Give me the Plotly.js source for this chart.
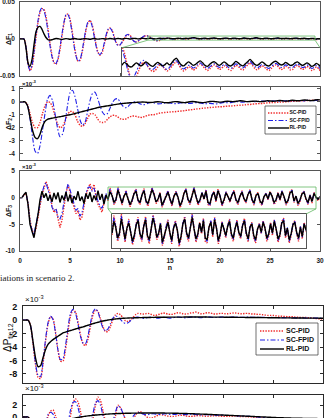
<!DOCTYPE html>
<html>
<head>
<meta charset="utf-8">
<script src="https://cdn.plot.ly/plotly-3.0.1.min.js"></script>
<style>
  html, body { margin: 0; padding: 0; background: #fff; overflow: hidden; }
  #chart { width: 326px; height: 418px; }
</style>
</head>
<body>
<div id="chart"></div>
<script>
// Sample instants (s) of the recorded signals
function timeBase(step) {
  const n = Math.round(30 / step), t = [];
  for (let i = 0; i <= n; i++) t.push(Math.round(i * step * 100) / 100);
  return t;
}
const tFast = timeBase(0.2);   // dF1, dF3
const tSlow = timeBase(0.25);  // dF2, dPtie12, lower tie-line panel

const legendNames = ['SC-PID', 'SC-FPID', 'RL-PID'];
const xTicks = [0, 5, 10, 15, 20, 25, 30];
const xTickText = ['0', '5', '10', '15', '20', '25', '30'];
const f1Ticks = [-0.05, 0, 0.05], f1TickText = ['-0.05', '0', '0.05'];
const f2Ticks = [-4, -3, -2, -1, 0, 1], f2TickText = ['-4', '-3', '-2', '-1', '0', '1'];
const f3Ticks = [-10, -5, 0, 5], f3TickText = ['-10', '-5', '0', '5'];
const pTicks = [-8, -6, -4, -2, 0, 2], pTickText = ['-8', '-6', '-4', '-2', '0', '2'];
const p2Ticks = [-2, 0, 2], p2TickText = ['-2', '0', '2'];

// dF1 (pu), one row per second
const dF1_scPid = [
  0, 0, 0, -0.010, -0.033,
  -0.043, -0.038, -0.020, 0.002, 0.022,
  0.036, 0.041, 0.040, 0.030, 0.014,
  -0.006, -0.022, -0.032, -0.034, -0.028,
  -0.014, 0.004, 0.021, 0.032, 0.034,
  0.027, 0.012, -0.006, -0.022, -0.030,
  -0.029, -0.019, -0.004, 0.012, 0.022,
  0.025, 0.020, 0.008, -0.007, -0.018,
  -0.022, -0.019, -0.009, 0.003, 0.012,
  0.015, 0.012, 0.004, -0.004, -0.008,
  -0.008, -0.005, 0.000, 0.004, 0.006,
  0.005, 0.001, -0.003, -0.004, -0.003,
  -0.001, 0.0015, 0.0035, 0.0045, 0.0042,
  0.003, 0.001, -0.001, -0.0022, -0.0025,
  -0.0018, -0.0006, 0.0005, 0.0011, 0.0009,
  0.0002, -0.0004, -0.0007, -0.0005, 0.0001,
  0.0006, 0.0004, -0.0002, -0.0006, -0.0003,
  0.0003, 0.0009, 0.0012, 0.0006, -0.0002,
  -0.0006, -0.0003, 0.0002, 0.0001, -0.0004,
  -0.0002, 0.0004, 0.0008, 0.0004, -0.0001,
  -0.0005, -0.0002, 0.0003, 0.0006, 0.0002,
  -0.0003, -0.0001, 0.0004, 0.0002, -0.0003,
  -0.0005, 0.0000, 0.0005, 0.0003, -0.0002,
  -0.0004, 0.0001, 0.0006, 0.0010, 0.0005,
  -0.0001, -0.0004, 0.0000, 0.0004, 0.0002,
  -0.0003, -0.0005, -0.0001, 0.0004, 0.0006,
  0.0002, -0.0003, -0.0002, 0.0003, 0.0001,
  -0.0004, -0.0003, 0.0002, 0.0005, 0.0001,
  -0.0003, -0.0001, 0.0003, 0.0000, -0.0005,
  -0.0003, 0.0002, -0.0002, -0.0008, -0.0006,
  -0.0003
];
const dF1_scFpid = [
  0, 0, 0, -0.011, -0.035,
  -0.042, -0.036, -0.017, 0.005, 0.025,
  0.038, 0.042, 0.038, 0.027, 0.010,
  -0.009, -0.024, -0.032, -0.033, -0.026,
  -0.011, 0.007, 0.023, 0.033, 0.033,
  0.025, 0.009, -0.009, -0.023, -0.030,
  -0.028, -0.017, -0.001, 0.014, 0.023,
  0.025, 0.018, 0.005, -0.009, -0.019,
  -0.021, -0.017, -0.007, 0.005, 0.013,
  0.015, 0.011, 0.003, -0.005, -0.009,
  -0.008, -0.004, 0.001, 0.005, 0.006,
  0.004, 0.000, -0.003, -0.004, -0.0025,
  -0.0005, 0.002, 0.004, 0.0045, 0.0038,
  0.0022, 0.0003, -0.0014, -0.0022, -0.0018,
  -0.0008, 0.0003, 0.0012, 0.0015, 0.0010,
  0.0003, -0.0002, -0.0003, 0.0001, 0.0006,
  0.0009, 0.0005, -0.0001, -0.0003, 0.0001,
  0.0007, 0.0013, 0.0014, 0.0008, 0.0001,
  -0.0002, 0.0001, 0.0005, 0.0004, 0.0000,
  0.0002, 0.0007, 0.0010, 0.0006, 0.0002,
  -0.0001, 0.0002, 0.0006, 0.0008, 0.0004,
  0.0001, 0.0003, 0.0007, 0.0005, 0.0001,
  -0.0001, 0.0003, 0.0008, 0.0006, 0.0002,
  0.0000, 0.0004, 0.0009, 0.0013, 0.0008,
  0.0003, 0.0000, 0.0003, 0.0007, 0.0005,
  0.0001, -0.0001, 0.0003, 0.0007, 0.0009,
  0.0005, 0.0001, 0.0002, 0.0006, 0.0004,
  0.0000, 0.0001, 0.0005, 0.0008, 0.0004,
  0.0001, 0.0002, 0.0006, 0.0003, -0.0001,
  0.0001, 0.0005, 0.0002, -0.0004, -0.0003,
  0.0000
];
const dF1_rlPid = [
  0, 0, 0, -0.012, -0.032,
  -0.037, -0.028, -0.008, 0.010, 0.016,
  0.017, 0.013, 0.007, 0.002, -0.001,
  -0.0015, -0.001, 0.0000, 0.0006, 0.0004,
  -0.0002, -0.0005, 0.0000, 0.0005, 0.0002,
  -0.0003, 0.0001, 0.0006, 0.0003, -0.0002,
  -0.0004, 0.0000, 0.0005, 0.0004, 0.0000,
  -0.0003, 0.0002, 0.0006, 0.0002, -0.0002,
  0.0001, 0.0005, 0.0003, -0.0001, 0.0002,
  0.0006, 0.0004, 0.0000, 0.0003, 0.0007,
  0.0004, 0.0000, 0.0004, 0.0008, 0.0005,
  0.0001, 0.0004, 0.0009, 0.0006, 0.0002,
  0.0005, 0.0010, 0.0007, 0.0003, 0.0006,
  0.0011, 0.0008, 0.0003, 0.0002, 0.0006,
  0.0010, 0.0007, 0.0004, 0.0007, 0.0012,
  0.0009, 0.0005, 0.0003, 0.0007, 0.0011,
  0.0008, 0.0004, 0.0006, 0.0010, 0.0006,
  0.0010, 0.0016, 0.0019, 0.0012, 0.0006,
  0.0004, 0.0008, 0.0012, 0.0009, 0.0005,
  0.0007, 0.0011, 0.0014, 0.0010, 0.0005,
  0.0003, 0.0007, 0.0011, 0.0012, 0.0008,
  0.0005, 0.0008, 0.0012, 0.0009, 0.0005,
  0.0004, 0.0008, 0.0013, 0.0010, 0.0006,
  0.0004, 0.0008, 0.0012, 0.0017, 0.0012,
  0.0007, 0.0005, 0.0008, 0.0012, 0.0009,
  0.0005, 0.0004, 0.0008, 0.0012, 0.0013,
  0.0009, 0.0006, 0.0007, 0.0011, 0.0008,
  0.0005, 0.0006, 0.0010, 0.0012, 0.0008,
  0.0005, 0.0007, 0.0010, 0.0007, 0.0003,
  0.0005, 0.0009, 0.0006, 0.0001, 0.0004,
  0.0005
];

// dF2 (x1e-3 pu), one row per second
const dF2_scPid = [
  0, 0, 0, -0.2,
  -0.9, -1.6, -2.0, -2.0,
  -1.6, -0.9, -0.3, 0.0,
  -0.05, -0.4, -1.1, -1.7,
  -2.0, -1.9, -1.5, -1.0,
  -0.75, -0.75, -1.0, -1.5,
  -1.8, -1.9, -1.7, -1.3,
  -0.95, -0.9, -1.0, -1.3,
  -1.55, -1.6, -1.55, -1.35,
  -1.15, -1.05, -1.05, -1.15,
  -1.3, -1.35, -1.35, -1.25,
  -1.15, -1.1, -1.1, -1.15,
  -1.2, -1.2, -1.12, -1.05,
  -1.0, -1.0, -0.98, -0.92,
  -0.86, -0.84, -0.82, -0.8,
  -0.78, -0.77, -0.76, -0.74,
  -0.72, -0.7, -0.67, -0.64,
  -0.62, -0.6, -0.57, -0.54,
  -0.52, -0.5, -0.48, -0.46,
  -0.44, -0.43, -0.41, -0.39,
  -0.38, -0.37, -0.35, -0.33,
  -0.32, -0.31, -0.29, -0.27,
  -0.26, -0.25, -0.23, -0.21,
  -0.2, -0.18, -0.16, -0.14,
  -0.13, -0.12, -0.1, -0.08,
  -0.07, -0.06, -0.05, -0.03,
  -0.02, -0.01, 0.0, 0.02,
  0.03, 0.04, 0.05, 0.06,
  0.07, 0.08, 0.09, 0.1,
  0.11, 0.12, 0.13, 0.14,
  0.15
];
const dF2_scFpid = [
  0, 0, 0, -0.3,
  -1.3, -2.7, -3.8, -4.0,
  -3.4, -2.2, -0.9, 0.2,
  0.5, 0.1, -0.9, -2.0,
  -2.7, -2.5, -1.6, -0.3,
  0.7, 0.9, 0.4, -0.5,
  -1.4, -1.8, -1.6, -0.8,
  0.1, 0.65, 0.75, 0.3,
  -0.3, -0.8, -1.0, -0.9,
  -0.5, -0.05, 0.2, 0.25,
  0.0, -0.3, -0.45, -0.4,
  -0.2, -0.05, 0.0, -0.05,
  -0.15, -0.22, -0.2, -0.12,
  -0.05, -0.05, -0.1, -0.15,
  -0.15, -0.12, -0.08, -0.06,
  -0.08, -0.12, -0.14, -0.12,
  -0.08, -0.06, -0.08, -0.11,
  -0.12, -0.1, -0.07, -0.06,
  -0.08, -0.12, -0.15, -0.14,
  -0.12, -0.14, -0.17, -0.15,
  -0.1, -0.06, -0.05, -0.07,
  -0.06, -0.03, 0.0, 0.02,
  0.0, -0.02, -0.01, 0.02,
  0.04, 0.03, 0.01, 0.02,
  0.05, 0.06, 0.04, 0.03,
  0.05, 0.08, 0.07, 0.05,
  0.06, 0.08, 0.09, 0.07,
  0.05, 0.07, 0.1, 0.1,
  0.08, 0.07, 0.09, 0.12,
  0.1, 0.08, 0.1, 0.13,
  0.12
];
const dF2_rlPid = [
  0, 0, 0, -0.3,
  -1.2, -2.2, -2.75, -2.85,
  -2.5, -1.9, -1.5, -1.35,
  -1.3, -1.26, -1.22, -1.18,
  -1.15, -1.11, -1.07, -1.03,
  -1.0, -0.95, -0.9, -0.85,
  -0.8, -0.75, -0.7, -0.65,
  -0.6, -0.55, -0.5, -0.45,
  -0.4, -0.37, -0.34, -0.31,
  -0.28, -0.24, -0.21, -0.18,
  -0.15, -0.13, -0.11, -0.09,
  -0.07, -0.06, -0.05, -0.03,
  -0.02, -0.01, -0.02, -0.04,
  -0.05, -0.04, -0.01, 0.01,
  0.0, -0.03, -0.06, -0.07,
  -0.05, -0.01, 0.02, 0.01,
  -0.02, -0.05, -0.06, -0.03,
  0.01, 0.03, 0.01, -0.02,
  -0.05, -0.06, -0.04, 0.0,
  0.03, 0.04, 0.02, 0.0,
  -0.02, 0.0, 0.03, 0.05,
  0.04, 0.02, 0.03, 0.06,
  0.08, 0.07, 0.04, 0.02,
  0.03, 0.05, 0.06, 0.04,
  0.02, 0.03, 0.06, 0.08,
  0.07, 0.05, 0.06, 0.09,
  0.1, 0.08, 0.06, 0.07,
  0.1, 0.12, 0.1, 0.08,
  0.1, 0.13, 0.14, 0.12,
  0.1, 0.11, 0.14, 0.16,
  0.15
];

// dF3 (x1e-3 pu), one row per second
const dF3_scPid = [
  0, 0, 0.5, 0.8, -1.0,
  -4.2, -6.0, -7.0, -5.8, -3.5,
  -1.5, 0.5, 1.8, 3.0, 2.0,
  0.8, -1.5, -2.8, -2.2, -4.0,
  -5.6, -4.2, -1.5, 0.8, 2.4,
  1.2, -0.3, -1.8, -3.0, -2.5,
  -4.2, -3.6, -1.5, 0.4, 1.6,
  2.6, 1.4, 2.5, 0.2, -1.2,
  -2.0, -2.7, -1.0, 0.5, -0.6,
  1.8, 0.6, -1.3, -0.6, 2.0,
  0.4, -1.4, 0.2, 1.4, -0.2,
  -1.7, -0.9, 0.9, 1.6, -0.6,
  -1.3, 0.6, 1.7, -0.8, -1.6,
  0.1, 1.9, 0.9, -1.1, -0.6,
  1.0, -1.8, -1.0, 0.5, 1.3,
  -0.4, -1.6, 0.3, 1.2, 0.0,
  -1.9, -1.0, 0.9, 1.7, -0.5,
  -1.3, 0.5, 2.0, 0.2, -1.4,
  -0.7, 1.0, -0.4, 1.5, -1.3,
  -1.5, 0.4, 1.2, -0.8, 1.6,
  0.3, -1.6, -0.7, 1.1, 0.1,
  -0.9, 0.6, 1.4, -0.6, -1.3,
  0.2, 1.3, -0.4, -1.0, 0.7,
  1.5, -0.5, -1.4, 0.5, 1.0,
  -0.9, -1.5, 0.1, 0.9, -0.4,
  1.2, 0.3, -1.3, -0.7, 1.0,
  -0.6, 1.3, 0.1, -1.4, -0.8,
  1.1, 1.5, -0.9, 0.3, -1.5,
  -0.7, 0.8, 1.2, -0.4, -1.3,
  0.5, -1.0, 1.0, 0.0, -0.6,
  0.1
];
const dF3_scFpid = [
  0, 0, 0.5, 0.9, -1.1,
  -4.5, -6.1, -6.8, -5.0, -3.0,
  -1.0, 0.8, 2.2, 2.8, 1.5,
  0.2, -1.8, -2.5, -2.0, -3.6,
  -4.0, -3.0, -0.8, 1.2, 2.6,
  1.5, 0.2, -1.2, -2.4, -2.0,
  -3.5, -2.8, -0.8, 0.9, 1.9,
  2.0, 1.2, 1.8, 0.4, -0.8,
  -1.6, -2.0, -0.6, 0.8, -0.4,
  1.6, 0.5, -1.1, -0.4, 1.8,
  0.3, -1.2, 0.3, 1.2, -0.1,
  -1.5, -0.7, 0.8, 1.5, -0.5,
  -1.1, 0.6, 1.5, -0.7, -1.3,
  0.2, 1.8, 0.8, -0.9, -0.4,
  0.9, -1.6, -0.8, 0.5, 1.2,
  -0.3, -1.4, 0.4, 1.1, 0.1,
  -1.7, -0.8, 0.9, 1.6, -0.4,
  -1.1, 0.6, 1.9, 0.3, -1.2,
  -0.5, 1.0, -0.3, 1.4, -1.1,
  -1.3, 0.5, 1.2, -0.6, 1.5,
  0.4, -1.4, -0.5, 1.1, 0.2,
  -0.7, 0.6, 1.3, -0.5, -1.1,
  0.3, 1.2, -0.3, -0.8, 0.7,
  1.4, -0.4, -1.2, 0.5, 0.9,
  -0.7, -1.3, 0.2, 0.8, -0.3,
  1.1, 0.4, -1.1, -0.5, 0.9,
  -0.4, 1.3, 0.2, -1.2, -0.6,
  1.0, 1.4, -0.7, 0.4, -1.3,
  -0.5, 0.9, 1.1, -0.3, -1.1,
  0.5, -0.8, 0.9, 0.1, -0.4,
  0.3
];
const dF3_rlPid = [
  0, 0, 0.6, 1.0, -1.2,
  -5.0, -6.3, -7.5, -5.2, -3.2,
  -0.4, 1.2, 0.0, 0.8, -0.6,
  0.5, -0.8, 0.9, -0.3, 1.0,
  -0.9, 0.4, -0.5, 1.1, -0.7,
  0.6, -1.0, 0.3, -0.4, 1.2,
  -0.6, 0.2, -1.1, 0.8, -0.2,
  1.0, -0.8, 0.4, -0.5, 1.3,
  -0.4, 0.7, -1.2, 0.5, -0.3,
  1.1, 0.4, -0.9, -0.3, 1.4,
  0.2, -1.0, 0.3, 0.9, -0.2,
  -1.3, -0.5, 0.7, 1.2, -0.4,
  -0.9, 0.5, 1.3, -0.6, -1.1,
  0.2, 1.5, 0.6, -0.8, -0.3,
  0.8, -1.4, -0.6, 0.4, 1.0,
  -0.2, -1.2, 0.3, 0.9, 0.1,
  -1.5, -0.7, 0.8, 1.4, -0.3,
  -0.9, 0.5, 1.6, 0.2, -1.0,
  -0.4, 0.9, -0.2, 1.2, -0.9,
  -1.1, 0.4, 1.0, -0.5, 1.3,
  0.3, -1.2, -0.4, 0.9, 0.2,
  -0.6, 0.5, 1.1, -0.4, -0.9,
  0.3, 1.0, -0.2, -0.7, 0.6,
  1.2, -0.3, -1.0, 0.4, 0.8,
  -0.6, -1.1, 0.2, 0.7, -0.2,
  1.0, 0.3, -0.9, -0.4, 0.8,
  -0.3, 1.1, 0.2, -1.0, -0.5,
  0.9, 1.2, -0.6, 0.3, -1.1,
  -0.4, 0.7, 1.0, -0.2, -0.9,
  0.4, -0.7, 0.8, 0.1, -0.3,
  0.2
];

// dPtie12 (x1e-3 pu), one row per second
const dPtie12_scPid = [
  0, 0, 0, -0.8,
  -3.5, -6.6, -8.5, -8.7,
  -6.5, -3.2, -0.6, 0.5,
  0.2, -1.8, -4.5, -6.1,
  -6.1, -4.4, -1.7, 0.6,
  1.5, 1.2, -0.3, -2.2,
  -3.5, -3.8, -2.8, -0.9,
  0.8, 1.5, 1.3, 0.2,
  -1.0, -1.7, -1.7, -0.9,
  0.1, 0.8, 1.0, 0.8,
  0.3, -0.1, -0.2, 0.0,
  0.4, 0.8, 1.0, 0.95,
  0.9, 0.95, 1.0, 0.9,
  0.75, 0.7, 0.8, 0.95,
  1.05, 1.0, 0.9, 0.85,
  0.9, 1.0, 1.1, 1.05,
  0.95, 0.9, 0.95, 1.05,
  1.1, 1.2, 1.1, 0.95,
  0.95, 1.05, 1.1, 1.05,
  0.95, 0.9, 0.95, 1.0,
  1.0, 0.95, 0.95, 1.0,
  1.05, 1.05, 1.0, 0.95,
  0.95, 1.0, 1.0, 0.95,
  0.9, 0.9, 0.85, 0.85,
  0.8, 0.75, 0.7, 0.7,
  0.7, 0.65, 0.6, 0.6,
  0.55, 0.55, 0.5, 0.5,
  0.5, 0.45, 0.45, 0.4,
  0.4, 0.4, 0.35, 0.35,
  0.3, 0.25, 0.2, 0.2,
  0.15
];
const dPtie12_scFpid = [
  0, 0, 0, -0.8,
  -3.4, -6.4, -8.2, -8.4,
  -6.2, -2.9, -0.4, 0.6,
  0.1, -1.9, -4.5, -5.9,
  -5.7, -3.8, -1.1, 1.0,
  1.6, 1.0, -0.6, -2.4,
  -3.4, -3.5, -2.3, -0.4,
  1.2, 1.7, 1.2, -0.1,
  -1.2, -1.6, -1.3, -0.5,
  0.3, 0.6, 0.5, 0.1,
  -0.3, -0.5, -0.4, -0.1,
  0.2, 0.4, 0.45, 0.35,
  0.25, 0.3, 0.4, 0.45,
  0.4, 0.3, 0.28, 0.35,
  0.42, 0.4, 0.34, 0.3,
  0.35, 0.42, 0.46, 0.42,
  0.36, 0.34, 0.38, 0.44,
  0.47, 0.44, 0.38, 0.36,
  0.4, 0.46, 0.48, 0.45,
  0.4, 0.38, 0.41, 0.45,
  0.46, 0.43, 0.41, 0.43,
  0.46, 0.47, 0.45, 0.42,
  0.41, 0.43, 0.45, 0.44,
  0.42, 0.41, 0.42, 0.43,
  0.42, 0.4, 0.39, 0.4,
  0.4, 0.39, 0.37, 0.37,
  0.37, 0.36, 0.35, 0.35,
  0.35, 0.34, 0.33, 0.33,
  0.33, 0.32, 0.32, 0.31,
  0.31, 0.3, 0.3, 0.3,
  0.29
];
const dPtie12_rlPid = [
  0, 0, 0, -0.8,
  -3.2, -5.6, -6.9, -6.8,
  -5.6, -4.4, -3.6, -3.2,
  -2.9, -2.65, -2.4, -2.15,
  -1.9, -1.78, -1.66, -1.54,
  -1.43, -1.32, -1.21, -1.1,
  -1.0, -0.88, -0.76, -0.64,
  -0.52, -0.42, -0.32, -0.22,
  -0.14, -0.06, 0.02, 0.08,
  0.13, 0.17, 0.21, 0.24,
  0.27, 0.29, 0.31, 0.33,
  0.34, 0.35, 0.36, 0.37,
  0.38, 0.39, 0.4, 0.4,
  0.41, 0.42, 0.42, 0.43,
  0.43, 0.43, 0.44, 0.44,
  0.44, 0.45, 0.45, 0.45,
  0.45, 0.46, 0.46, 0.46,
  0.46, 0.46, 0.46, 0.46,
  0.46, 0.46, 0.45, 0.45,
  0.45, 0.45, 0.44, 0.44,
  0.44, 0.43, 0.43, 0.43,
  0.42, 0.42, 0.41, 0.41,
  0.41, 0.4, 0.4, 0.39,
  0.39, 0.39, 0.38, 0.38,
  0.37, 0.37, 0.36, 0.36,
  0.36, 0.35, 0.35, 0.34,
  0.34, 0.33, 0.33, 0.33,
  0.32, 0.32, 0.31, 0.31,
  0.31, 0.3, 0.3, 0.3,
  0.29, 0.29, 0.29, 0.28,
  0.28
];

// lower tie-line panel (x1e-3 pu), one row per second
const dPtieB_scPid = [
  0, 0, 0, -0.6,
  -2.5, -4.6, -5.8, -5.6,
  -4.0, -1.8, 0.1, 1.0,
  1.2, 0.2, -1.8, -3.6,
  -4.4, -4.0, -2.4, 0.2,
  2.4, 3.1, 2.6, 0.9,
  -1.2, -2.8, -3.3, -2.6,
  -0.4, 2.0, 3.4, 2.8,
  1.0, -0.8, -1.9, -2.2,
  -1.6, 0.2, 2.0, 1.6,
  0.6, -0.4, -0.9, -0.9,
  -0.4, 0.3, 0.8, 0.9,
  0.6, 0.2, -0.1, -0.2,
  -0.1, 0.1, 0.3, 0.4,
  0.35, 0.25, 0.15, 0.1,
  0.1, 0.15, 0.25, 0.3,
  0.28, 0.2, 0.12, 0.1,
  0.14, 0.2, 0.24, 0.22,
  0.18, 0.14, 0.12, 0.15,
  0.2, 0.22, 0.2, 0.16,
  0.12, 0.1, 0.12, 0.16,
  0.18, 0.16, 0.12, 0.08,
  0.06, 0.06, 0.04, 0.02,
  0.0, -0.05, -0.1, -0.15,
  -0.2, -0.25, -0.3, -0.35,
  -0.38, -0.4, -0.42, -0.44,
  -0.46, -0.48, -0.5, -0.5,
  -0.52, -0.53, -0.54, -0.55,
  -0.56, -0.57, -0.58, -0.58,
  -0.59, -0.6, -0.6, -0.6,
  -0.6
];
const dPtieB_scFpid = [
  0, 0, 0, -0.6,
  -2.6, -4.8, -6.0, -5.6,
  -3.7, -1.4, 0.4, 0.8,
  0.5, -0.8, -2.6, -3.9,
  -4.2, -3.2, -1.2, 1.2,
  2.5, 2.6, 1.6, -0.2,
  -2.0, -3.0, -2.9, -1.6,
  0.6, 2.4, 2.8, 2.0,
  0.2, -1.3, -2.0, -1.8,
  -0.7, 0.9, 1.9, 1.6,
  0.6, -0.3, -0.7, -0.5,
  0.1, 0.6, 0.8, 0.7,
  0.5, 0.4, 0.4, 0.5,
  0.55, 0.5, 0.45, 0.45,
  0.5, 0.55, 0.5, 0.45,
  0.42, 0.45, 0.5, 0.48,
  0.44, 0.4, 0.42, 0.46,
  0.45, 0.42, 0.38, 0.36,
  0.38, 0.4, 0.38, 0.35,
  0.32, 0.3, 0.32, 0.33,
  0.3, 0.27, 0.25, 0.26,
  0.25, 0.22, 0.2, 0.18,
  0.16, 0.14, 0.12, 0.1,
  0.07, 0.04, 0.0, -0.04,
  -0.08, -0.12, -0.16, -0.2,
  -0.24, -0.27, -0.3, -0.33,
  -0.36, -0.38, -0.4, -0.42,
  -0.44, -0.46, -0.47, -0.48,
  -0.49, -0.5, -0.51, -0.52,
  -0.53, -0.53, -0.54, -0.54,
  -0.55
];
const dPtieB_rlPid = [
  0, 0, 0, -0.7,
  -2.8, -4.8, -5.6, -5.2,
  -4.0, -3.1, -2.5, -2.0,
  -1.65, -1.35, -1.1, -0.9,
  -0.72, -0.58, -0.45, -0.34,
  -0.24, -0.16, -0.08, 0.0,
  0.07, 0.13, 0.19, 0.24,
  0.29, 0.33, 0.37, 0.41,
  0.44, 0.47, 0.5, 0.53,
  0.55, 0.57, 0.59, 0.61,
  0.62, 0.63, 0.64, 0.65,
  0.66, 0.67, 0.67, 0.68,
  0.68, 0.69, 0.69, 0.69,
  0.69, 0.69, 0.69, 0.68,
  0.68, 0.67, 0.67, 0.66,
  0.65, 0.64, 0.63, 0.62,
  0.61, 0.6, 0.58, 0.57,
  0.55, 0.54, 0.52, 0.5,
  0.49, 0.47, 0.45, 0.43,
  0.41, 0.39, 0.37, 0.35,
  0.33, 0.31, 0.29, 0.27,
  0.25, 0.23, 0.21, 0.19,
  0.17, 0.15, 0.13, 0.11,
  0.09, 0.07, 0.05, 0.03,
  0.01, -0.01, -0.03, -0.05,
  -0.07, -0.09, -0.11, -0.12,
  -0.14, -0.15, -0.17, -0.18,
  -0.19, -0.2, -0.21, -0.22,
  -0.23, -0.24, -0.25, -0.25,
  -0.26, -0.26, -0.27, -0.27,
  -0.28
];

// ---------- styling ----------
const W = 326, H = 418;
const px = v => v / W;            // horizontal pixel -> paper
const py = v => 1 - v / H;        // vertical pixel -> paper

const lineStyles = [
  { color: '#f02a2a', width: 1.4, dash: '1.4px,1.3px' },       // SC-PID
  { color: '#2020e8', width: 1.1, dash: '5px,2px,1.5px,2px' }, // SC-FPID
  { color: '#000000', width: 1.4, dash: 'solid' }              // RL-PID
];
const green = '#62b862';
const fontFamily = 'Liberation Sans, Arial, sans-serif';
const topTickFont = { family: fontFamily, size: 6.5, color: '#222', weight: 'bold' };
const botTickFont = { family: fontFamily, size: 9, color: '#111', weight: 'bold' };

// panel geometry (paper fractions)
const topX = [px(20), px(320)];
const botX = [px(23), px(323)];
const dom = {
  f1: [py(76), py(2)], f2: [py(160), py(87)], f3: [py(251), py(171)],
  p12: [py(383), py(306)], pB: [0, py(395)]
};
const inset1 = { x: [px(122), px(320)], y: [py(75.5), py(47.7)], xr: [12.8, 29.5], yr: [-0.0015, 0.004] };
const inset3 = { x: [px(112), px(306)], y: [py(248), py(214)], xr: [8.8, 29.6], yr: [-2.1, 2.0] };
const ranges = {
  x: [0, 30], f1: [-0.05, 0.05], f2: [-4.5, 1.15], f3: [-10, 5], p12: [-9.35, 2.1], pB: [-0.17, 3.76]
};

function frameAxis(extra, color) {
  return Object.assign({
    showline: true, mirror: 'ticks', linecolor: color, linewidth: 0.8,
    ticks: 'inside', ticklen: 3, tickwidth: 0.7, tickcolor: color,
    showgrid: false, zeroline: false, fixedrange: true, ticklabeloverflow: 'allow'
  }, extra);
}
function insetAxis(extra) {
  return Object.assign({
    showline: true, mirror: true, linecolor: '#555', linewidth: 0.8,
    ticks: '', showticklabels: false, showgrid: false, zeroline: false, fixedrange: true
  }, extra);
}

function curves(t, series, xa, ya, shape) {
  return series.map((y, i) => ({
    type: 'scatter', mode: 'lines', x: t, y: y, xaxis: xa, yaxis: ya,
    name: legendNames[i], showlegend: false, hoverinfo: 'skip',
    line: Object.assign({ shape: shape, smoothing: 0.7 }, lineStyles[i])
  }));
}

const f1Set = [dF1_scPid, dF1_scFpid, dF1_rlPid];
const f2Set = [dF2_scPid, dF2_scFpid, dF2_rlPid];
const f3Set = [dF3_scPid, dF3_scFpid, dF3_rlPid];
const p12Set = [dPtie12_scPid, dPtie12_scFpid, dPtie12_rlPid];
const pBSet = [dPtieB_scPid, dPtieB_scFpid, dPtieB_rlPid];

// map a paper fraction into an axis' data units
function toData(p, d, r) { return r[0] + (p - d[0]) / (d[1] - d[0]) * (r[1] - r[0]); }

// legend labels, written as text points inside the host panel
function legendText(names, xPx, rowsPx, xa, ya, hostX, hostY, hostRange, size) {
  return {
    type: 'scatter', mode: 'text', xaxis: xa, yaxis: ya, hoverinfo: 'skip', showlegend: false,
    x: rowsPx.map(() => toData(px(xPx), hostX, ranges.x)),
    y: rowsPx.map(r => toData(py(r), hostY, hostRange)),
    text: names, textposition: 'middle right', cliponaxis: false,
    textfont: { family: fontFamily, size: size, color: '#111', weight: 'bold' }
  };
}

const data = [].concat(
  curves(tFast, f1Set, 'x', 'y', 'spline'),
  curves(tSlow, f2Set, 'x2', 'y2', 'spline'),
  curves(tFast, f3Set, 'x3', 'y3', 'linear'),
  curves(tFast, f1Set, 'x4', 'y4', 'spline'),
  curves(tFast, f3Set, 'x5', 'y5', 'linear'),
  curves(tSlow, p12Set, 'x6', 'y6', 'spline'),
  curves(tSlow, pBSet, 'x7', 'y7', 'spline'),
  [legendText(legendNames, 289.5, [113, 120.5, 128], 'x2', 'y2', topX, dom.f2, ranges.f2, 5),
   legendText(legendNames, 286, [331, 340, 349], 'x6', 'y6', botX, dom.p12, ranges.p12, 7)]
);

function zoomMarks(xa, ya, hostX, hostY, hostRange, inset) {
  const yTop = toData(inset.y[1], hostY, hostRange);
  const xl = toData(inset.x[0], hostX, ranges.x), xr = toData(inset.x[1], hostX, ranges.x);
  const yb = inset.yr[0];
  const ln = { color: green, width: 0.8 };
  return [
    { type: 'rect', xref: xa, yref: ya, x0: inset.xr[0], x1: inset.xr[1], y0: inset.yr[0], y1: inset.yr[1],
      line: ln, fillcolor: 'rgba(0,0,0,0)', layer: 'above' },
    { type: 'line', xref: xa, yref: ya, x0: inset.xr[0], y0: yb, x1: xl, y1: yTop, line: ln, layer: 'above' },
    { type: 'line', xref: xa, yref: ya, x0: inset.xr[1], y0: yb, x1: xr, y1: yTop, line: ln, layer: 'above' }
  ];
}

function legendFrame(box, lineX, rows) {
  const shapes = [{
    type: 'rect', xref: 'paper', yref: 'paper', x0: px(box[0]), x1: px(box[1]), y0: py(box[3]), y1: py(box[2]),
    line: { color: '#333', width: 0.7 }, fillcolor: '#fff', layer: 'below'
  }];
  rows.forEach((yy, i) => {
    shapes.push({
      type: 'line', xref: 'paper', yref: 'paper', x0: px(lineX[0]), x1: px(lineX[1]), y0: py(yy), y1: py(yy),
      line: { color: lineStyles[i].color, width: lineStyles[i].width, dash: lineStyles[i].dash }, layer: 'above'
    });
  });
  return shapes;
}

const shapes = [].concat(
  zoomMarks('x', 'y', topX, dom.f1, ranges.f1, inset1),
  zoomMarks('x3', 'y3', topX, dom.f3, ranges.f3, inset3),
  legendFrame([265, 316, 106, 134], [268, 289], [113, 120.5, 128]),
  legendFrame([256, 318, 323, 355], [260, 284], [331, 340, 349])
);

function note(text, x, y, opts) {
  return Object.assign({ xref: 'paper', yref: 'paper', x: px(x), y: py(y), text: text, showarrow: false,
    xanchor: 'center', yanchor: 'middle' }, opts);
}
const labFont = size => ({ family: fontFamily, size: size, color: '#111' });

const annotations = [
  note('<b>ΔF<sub>1</sub></b>', 9, 39, { textangle: -90, font: labFont(7) }),
  note('<b>ΔF<sub>2</sub></b>', 9, 124, { textangle: -90, font: labFont(7) }),
  note('<b>ΔF<sub>3</sub></b>', 9, 211, { textangle: -90, font: labFont(7) }),
  note('<b>×10<sup>-3</sup></b>', 20, 88.5, { xanchor: 'left', yanchor: 'bottom', font: labFont(6) }),
  note('<b>×10<sup>-3</sup></b>', 20, 172.5, { xanchor: 'left', yanchor: 'bottom', font: labFont(6) }),
  note('ΔP<sub>tie12</sub>', 8, 338, { textangle: -90, font: labFont(10) }),
  note('×10<sup>-3</sup>', 23, 306, { xanchor: 'left', yanchor: 'bottom', font: labFont(8) }),
  note('×10<sup>-3</sup>', 23, 395, { xanchor: 'left', yanchor: 'bottom', font: labFont(8) })
];

const topC = '#555', botC = '#2a2a2a';
const layout = {
  width: W, height: H, margin: { l: 0, r: 0, t: 0, b: 0 }, autosize: false,
  paper_bgcolor: '#fff', plot_bgcolor: '#fff', showlegend: false,
  title: {
    text: 'iations in scenario 2.', x: 0, xref: 'paper', xanchor: 'left',
    y: py(278), yref: 'paper', yanchor: 'middle', pad: { t: 0, b: 0, l: 0, r: 0 },
    font: { family: 'Liberation Serif, Times New Roman, serif', size: 9, color: '#222' }
  },
  xaxis: frameAxis({ domain: topX, range: ranges.x, tickvals: xTicks, showticklabels: false, anchor: 'y' }, topC),
  yaxis: frameAxis({ domain: dom.f1, range: ranges.f1, tickvals: f1Ticks, ticktext: f1TickText,
    tickfont: topTickFont, ticklabelstandoff: 3, anchor: 'x' }, topC),
  xaxis2: frameAxis({ domain: topX, range: ranges.x, tickvals: xTicks, showticklabels: false, anchor: 'y2' }, topC),
  yaxis2: frameAxis({ domain: dom.f2, range: ranges.f2, tickvals: f2Ticks, ticktext: f2TickText,
    tickfont: topTickFont, ticklabelstandoff: 3, anchor: 'x2' }, topC),
  xaxis3: frameAxis({ domain: topX, range: ranges.x, tickvals: xTicks, ticktext: xTickText,
    tickfont: topTickFont, ticklabelstandoff: 3, anchor: 'y3',
    title: { text: '<b>n</b>', standoff: 0, font: { family: fontFamily, size: 7, color: '#111' } } }, topC),
  yaxis3: frameAxis({ domain: dom.f3, range: ranges.f3, tickvals: f3Ticks, ticktext: f3TickText,
    tickfont: topTickFont, ticklabelstandoff: 3, anchor: 'x3' }, topC),
  xaxis4: insetAxis({ domain: inset1.x, range: inset1.xr, anchor: 'y4' }),
  yaxis4: insetAxis({ domain: inset1.y, range: inset1.yr, anchor: 'x4' }),
  xaxis5: insetAxis({ domain: inset3.x, range: inset3.xr, anchor: 'y5' }),
  yaxis5: insetAxis({ domain: inset3.y, range: inset3.yr, anchor: 'x5' }),
  xaxis6: frameAxis({ domain: botX, range: ranges.x, tickvals: xTicks, showticklabels: false, anchor: 'y6' }, botC),
  yaxis6: frameAxis({ domain: dom.p12, range: ranges.p12, tickvals: pTicks, ticktext: pTickText,
    tickfont: botTickFont, ticklabelstandoff: 3, anchor: 'x6' }, botC),
  xaxis7: frameAxis({ domain: botX, range: ranges.x, tickvals: xTicks, showticklabels: false,
    side: 'top', mirror: false, anchor: 'y7' }, botC),
  yaxis7: frameAxis({ domain: dom.pB, range: ranges.pB, tickvals: p2Ticks, ticktext: p2TickText,
    tickfont: botTickFont, ticklabelstandoff: 3, anchor: 'x7' }, botC),
  shapes: shapes,
  annotations: annotations
};

Plotly.newPlot('chart', data, layout, { displayModeBar: false, responsive: false });
</script>
</body>
</html>
